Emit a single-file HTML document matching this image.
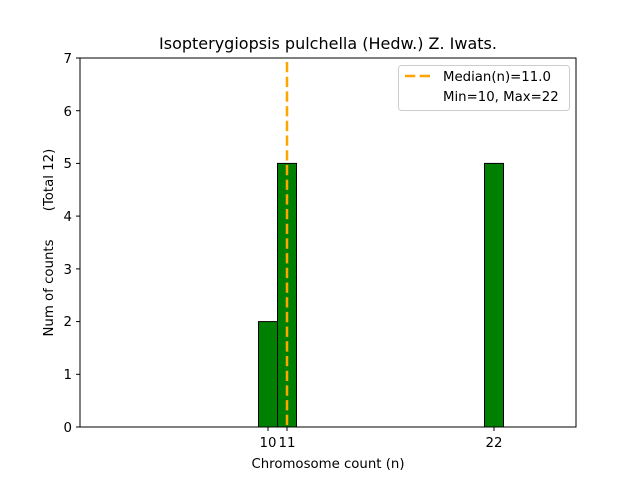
<!DOCTYPE html>
<html><head><meta charset="utf-8"><style>body{margin:0;background:#fff}</style></head><body>
<svg width="640" height="480" xmlns="http://www.w3.org/2000/svg" font-family="DejaVu Sans, Liberation Sans, sans-serif">
<rect width="640" height="480" fill="#fff"/>
<g fill="#008000" stroke="#000" stroke-width="1">
<rect x="258.5" y="321.6" width="19" height="105.4"/>
<rect x="277.5" y="163.4" width="19" height="263.6"/>
<rect x="484.5" y="163.4" width="19" height="263.6"/>
</g>
<line x1="287" y1="62" x2="287" y2="427" stroke="#FFA500" stroke-width="2.5" stroke-dasharray="10.3,4.4"/>
<rect x="80" y="58" width="496" height="369" fill="none" stroke="#000" stroke-width="1"/>
<g stroke="#000" stroke-width="1">
<line x1="80" y1="427" x2="76" y2="427"/><line x1="80" y1="374.3" x2="76" y2="374.3"/>
<line x1="80" y1="321.6" x2="76" y2="321.6"/><line x1="80" y1="268.9" x2="76" y2="268.9"/>
<line x1="80" y1="216.1" x2="76" y2="216.1"/><line x1="80" y1="163.4" x2="76" y2="163.4"/>
<line x1="80" y1="110.7" x2="76" y2="110.7"/><line x1="80" y1="58" x2="76" y2="58"/>
<line x1="268" y1="427" x2="268" y2="431"/><line x1="287" y1="427" x2="287" y2="431"/>
<line x1="494" y1="427" x2="494" y2="431"/>
</g>
<g font-size="13.3" fill="#000" text-anchor="end">
<text x="72" y="432">0</text><text x="72" y="379">1</text><text x="72" y="326">2</text>
<text x="72" y="274">3</text><text x="72" y="221">4</text><text x="72" y="168">5</text>
<text x="72" y="116">6</text><text x="72" y="63">7</text>
</g>
<g font-size="13.3" fill="#000" text-anchor="middle">
<text x="268" y="447">10</text><text x="287" y="447">11</text><text x="494" y="447">22</text>
<text x="328" y="468">Chromosome count (n)</text>
<text x="328" y="49" font-size="16">Isopterygiopsis pulchella (Hedw.) Z. Iwats.</text>
</g>
<text transform="translate(53,288) rotate(-90)" font-size="13.3" text-anchor="middle">Num of counts</text>
<text transform="translate(53,180) rotate(-90)" font-size="13.3" text-anchor="middle">(Total 12)</text>
<rect x="398.5" y="65.5" width="171" height="45" rx="3" fill="#fff" stroke="#ccc"/>
<line x1="405" y1="76" x2="433" y2="76" stroke="#FFA500" stroke-width="2.5" stroke-dasharray="10.3,4.4"/>
<text x="443" y="81" font-size="13.3">Median(n)=11.0</text>
<text x="443" y="101" font-size="13.3">Min=10, Max=22</text>
</svg>
</body></html>
